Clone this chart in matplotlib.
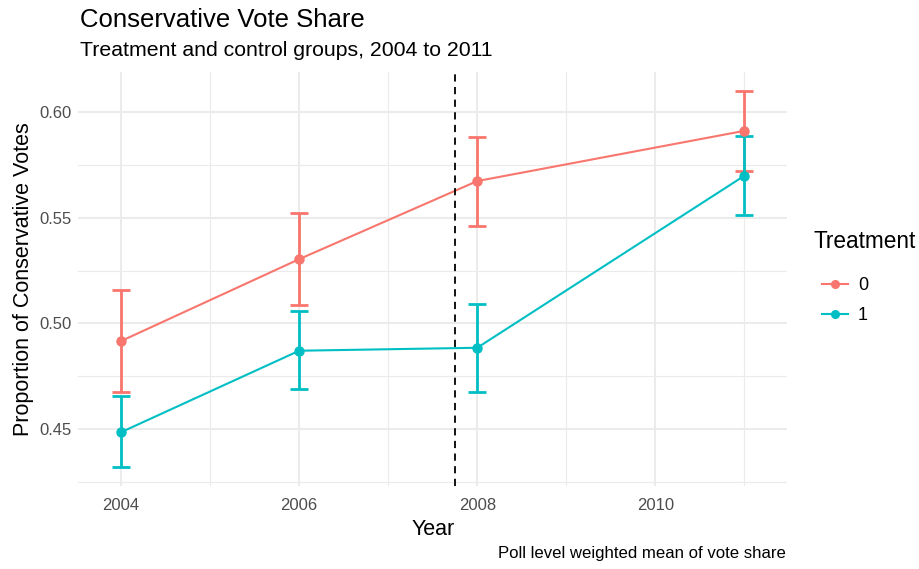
import matplotlib
matplotlib.use("Agg")
import matplotlib.pyplot as plt
from matplotlib.lines import Line2D

plt.rcParams['font.family'] = ['Liberation Sans', 'DejaVu Sans']

# Poll level weighted means with interval bounds, by treatment group
years = [2004, 2006, 2008, 2011]
groups = ["0", "1"]
mean_0 = [0.4916, 0.5304, 0.5674, 0.5912]
low_0 = [0.4673, 0.5085, 0.5462, 0.5723]
high_0 = [0.5159, 0.5521, 0.5882, 0.6101]
mean_1 = [0.4484, 0.4870, 0.4884, 0.5699]
low_1 = [0.4317, 0.4687, 0.4676, 0.5513]
high_1 = [0.4656, 0.5058, 0.5093, 0.5887]
cutoff_year = 2007.75

colors = {"0": "#F8766D", "1": "#00BFC4"}
series = {"0": (mean_0, low_0, high_0), "1": (mean_1, low_1, high_1)}

fig = plt.figure(figsize=(9.19, 5.69), dpi=100)
ax = fig.add_axes([0.0853, 0.1459, 0.7711, 0.7276])

grid_c = "#EBEBEB"
for x in [2005, 2007, 2009, 2011]:
    ax.axvline(x, color=grid_c, lw=0.8, zorder=0)
for y in [0.425, 0.475, 0.525, 0.575]:
    ax.axhline(y, color=grid_c, lw=0.8, zorder=0)
ax.set_xticks([2004, 2006, 2008, 2010])
ax.set_yticks([0.45, 0.50, 0.55, 0.60])
ax.set_yticklabels(["0.45", "0.50", "0.55", "0.60"])
ax.grid(True, which="major", color=grid_c, lw=1.5, zorder=0)

for g in groups:
    m, lo, hi = series[g]
    c = colors[g]
    ax.plot(years, m, color=c, lw=1.5, zorder=3)
    yerr = [[mi - l for mi, l in zip(m, lo)], [h - mi for mi, h in zip(m, hi)]]
    ax.errorbar(years, m, yerr=yerr, fmt="none", ecolor=c, elinewidth=2.0,
                capsize=6.5, capthick=2.0, zorder=3)
    ax.plot(years, m, "o", color=c, ms=6.5, zorder=4)

ax.axvline(cutoff_year, color="black", lw=1.3, linestyle=(0, (4, 3)), zorder=5)

ax.set_xlim(2003.52, 2011.48)
ax.set_ylim(0.4229, 0.6191)
for s in ax.spines.values():
    s.set_visible(False)
ax.tick_params(axis="x", length=0, labelsize=12, labelcolor="#4D4D4D", pad=9)
ax.tick_params(axis="y", length=0, labelsize=12, labelcolor="#4D4D4D", pad=5)

ax.set_xlabel("Year", fontsize=15.5, labelpad=4)
ax.set_ylabel("Proportion of Conservative Votes", fontsize=15.5, labelpad=4)

fig.text(0.0875, 0.965, "Conservative Vote Share", fontsize=18.5, ha="left", va="center")
fig.text(0.0875, 0.912, "Treatment and control groups, 2004 to 2011", fontsize=15.3, ha="left", va="center")
fig.text(0.855, 0.027, "Poll level weighted mean of vote share", fontsize=12.1, ha="right", va="center")

# Legend: title and keys placed separately so the keys sit indented
fig.text(813 / 919, 1 - 242 / 569, "Treatment", fontsize=16.3, ha="left", va="center")
handles = [Line2D([0], [0], color=colors[g], lw=1.5, marker="o", ms=5.5) for g in groups]
leg = fig.legend(handles, groups, loc="upper left",
                 bbox_to_anchor=(822 / 919, 1 - 277 / 569), frameon=False, fontsize=13,
                 handlelength=1.45, labelspacing=0.72,
                 handletextpad=0.55, borderaxespad=0, borderpad=0)

fig.savefig("out.png", dpi=100)
